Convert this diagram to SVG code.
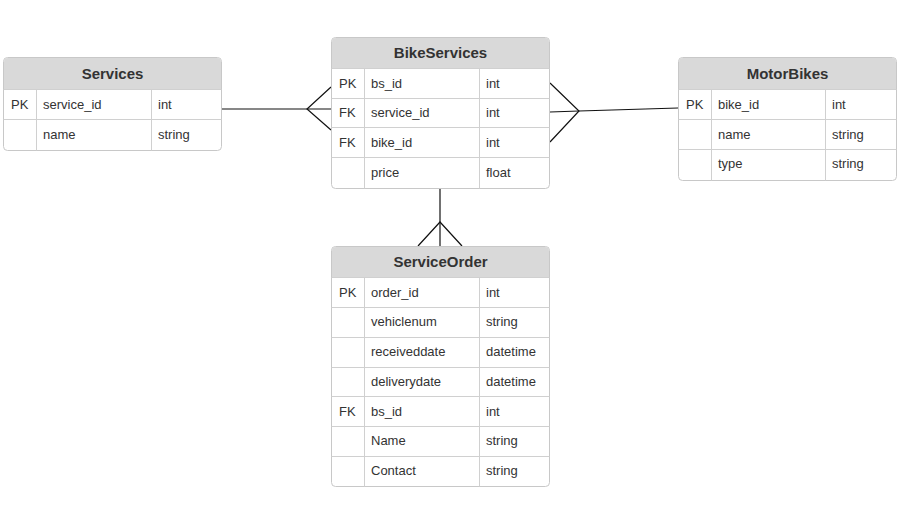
<svg xmlns="http://www.w3.org/2000/svg" width="916" height="505" viewBox="0 0 916 505">
<style>
.box{fill:#ffffff;stroke:#c8c8c8;stroke-width:1}
.hdr{fill:#d9d9d9;stroke:none}
.sep{stroke:#d0d0d0;stroke-width:1;fill:none}
.title{font-family:"Liberation Sans",Arial,sans-serif;font-size:15px;font-weight:bold;fill:#333;text-anchor:middle}
.t{font-family:"Liberation Sans",Arial,sans-serif;font-size:13px;fill:#333}
.conn line,.conn polyline{stroke:#111;stroke-width:1.2;fill:none}
</style>
<rect width="916" height="505" fill="#ffffff"/>
<g class="conn" id="connectors">
<line x1="221" y1="109" x2="331" y2="109"/>
<polyline points="331,87 307,109 331,130"/>
<line x1="550" y1="112" x2="579" y2="111"/>
<polyline points="550,83 579,111 550,142"/>
<line x1="579" y1="111" x2="678" y2="108"/>
<line x1="440" y1="189" x2="440" y2="246"/>
<polyline points="418,246 440,222 462,246"/>
</g>
<g id="Services" transform="translate(3,57)">
<rect class="box" x="0.5" y="0.5" width="218" height="93" rx="4"/>
<path class="hdr" d="M1,32 V5 A4,4 0 0 1 5,1 H214 A4,4 0 0 1 218,5 V32 Z"/>
<path class="sep" d="M0.5,32.5 H218.5 M0.5,62.5 H218.5 M33.5,32.5 V93.5 M148.5,32.5 V93.5"/>
<text class="title" x="109.5" y="22">Services</text>
<text class="t" x="8" y="52">PK</text><text class="t" x="40" y="52">service_id</text><text class="t" x="155" y="52">int</text>
<text class="t" x="40" y="82">name</text><text class="t" x="155" y="82">string</text>
</g>
<g id="BikeServices" transform="translate(331,37)">
<rect class="box" x="0.5" y="0.5" width="218" height="151" rx="4"/>
<path class="hdr" d="M1,31 V5 A4,4 0 0 1 5,1 H214 A4,4 0 0 1 218,5 V31 Z"/>
<path class="sep" d="M0.5,31.5 H218.5 M0.5,61.5 H218.5 M0.5,90.5 H218.5 M0.5,120.5 H218.5 M33.5,31.5 V151.5 M148.5,31.5 V151.5"/>
<text class="title" x="109.5" y="21">BikeServices</text>
<text class="t" x="8" y="51">PK</text><text class="t" x="40" y="51">bs_id</text><text class="t" x="155" y="51">int</text>
<text class="t" x="8" y="80">FK</text><text class="t" x="40" y="80">service_id</text><text class="t" x="155" y="80">int</text>
<text class="t" x="8" y="110">FK</text><text class="t" x="40" y="110">bike_id</text><text class="t" x="155" y="110">int</text>
<text class="t" x="40" y="140">price</text><text class="t" x="155" y="140">float</text>
</g>
<g id="MotorBikes" transform="translate(678,57)">
<rect class="box" x="0.5" y="0.5" width="218" height="123" rx="4"/>
<path class="hdr" d="M1,32 V5 A4,4 0 0 1 5,1 H214 A4,4 0 0 1 218,5 V32 Z"/>
<path class="sep" d="M0.5,32.5 H218.5 M0.5,62.5 H218.5 M0.5,92.5 H218.5 M33.5,32.5 V123.5 M147.5,32.5 V123.5"/>
<text class="title" x="109.5" y="22">MotorBikes</text>
<text class="t" x="8" y="52">PK</text><text class="t" x="40" y="52">bike_id</text><text class="t" x="154" y="52">int</text>
<text class="t" x="40" y="82">name</text><text class="t" x="154" y="82">string</text>
<text class="t" x="40" y="111">type</text><text class="t" x="154" y="111">string</text>
</g>
<g id="ServiceOrder" transform="translate(331,246)">
<rect class="box" x="0.5" y="0.5" width="218" height="240" rx="4"/>
<path class="hdr" d="M1,31 V5 A4,4 0 0 1 5,1 H214 A4,4 0 0 1 218,5 V31 Z"/>
<path class="sep" d="M0.5,31.5 H218.5 M0.5,61.5 H218.5 M0.5,91.5 H218.5 M0.5,121.5 H218.5 M0.5,150.5 H218.5 M0.5,180.5 H218.5 M0.5,210.5 H218.5 M33.5,31.5 V240.5 M148.5,31.5 V240.5"/>
<text class="title" x="109.5" y="21">ServiceOrder</text>
<text class="t" x="8" y="51">PK</text><text class="t" x="40" y="51">order_id</text><text class="t" x="155" y="51">int</text>
<text class="t" x="40" y="80">vehiclenum</text><text class="t" x="155" y="80">string</text>
<text class="t" x="40" y="110">receiveddate</text><text class="t" x="155" y="110">datetime</text>
<text class="t" x="40" y="140">deliverydate</text><text class="t" x="155" y="140">datetime</text>
<text class="t" x="8" y="170">FK</text><text class="t" x="40" y="170">bs_id</text><text class="t" x="155" y="170">int</text>
<text class="t" x="40" y="199">Name</text><text class="t" x="155" y="199">string</text>
<text class="t" x="40" y="229">Contact</text><text class="t" x="155" y="229">string</text>
</g>
</svg>
